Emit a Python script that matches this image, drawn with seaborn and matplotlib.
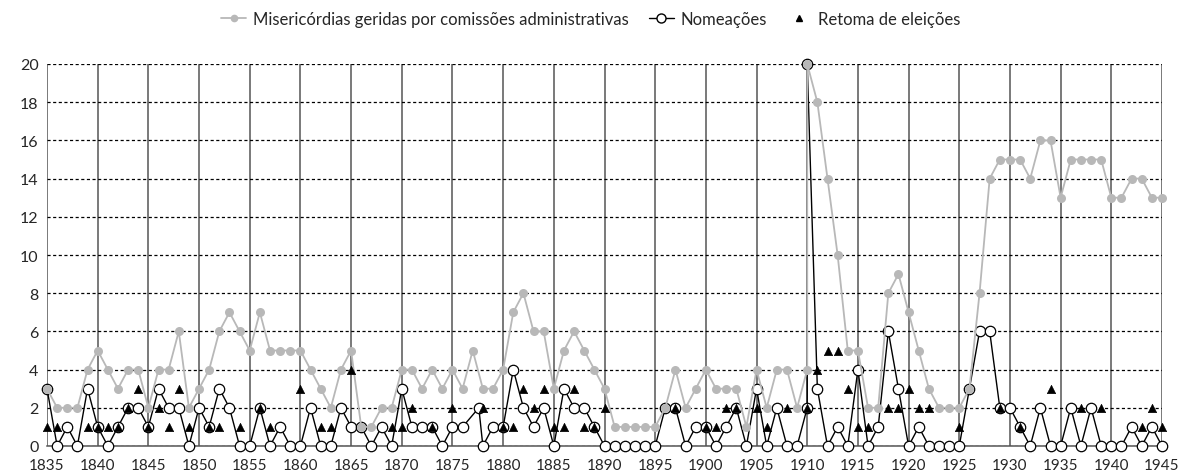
import numpy as np
import pandas as pd
import seaborn as sns
import matplotlib.pyplot as plt
from matplotlib.lines import Line2D

# anos (1910 aparece duas vezes: antes e depois da República)
anos = list(range(1835, 1911)) + list(range(1910, 1946))

misericordias = [3, 2, 2, 2, 4, 5, 4, 3, 4, 4,
                 2, 4, 4, 6, 2, 3, 4, 6, 7, 6,
                 5, 7, 5, 5, 5, 5, 4, 3, 2, 4,
                 5, 1, 1, 2, 2, 4, 4, 3, 4, 3,
                 4, 3, 5, 3, 3, 4, 7, 8, 6, 6,
                 3, 5, 6, 5, 4, 3, 1, 1, 1, 1,
                 1, 2, 4, 2, 3, 4, 3, 3, 3, 1,
                 4, 2, 4, 4, 2,
                 4, 20,
                 18, 14, 10, 5, 5, 2, 2, 8, 9, 7,
                 5, 3, 2, 2, 2, 3, 8, 14, 15, 15,
                 15, 14, 16, 16, 13, 15, 15, 15, 15, 13,
                 13, 14, 14, 13, 13]

anos_nomeacoes = [a if a != 1877 else 1877.6 for a in anos]
nomeacoes = [3, 0, 1, 0, 3, 1, 0, 1, 2, 2,
             1, 3, 2, 2, 0, 2, 1, 3, 2, 0,
             0, 2, 0, 1, 0, 0, 2, 0, 0, 2,
             1, 1, 0, 1, 0, 3, 1, 1, 1, 0,
             1, 1, 2, 0, 1, 1, 4, 2, 1, 2,
             0, 3, 2, 2, 1, 0, 0, 0, 0, 0,
             0, 2, 2, 0, 1, 1, 0, 1, 2, 0,
             3, 0, 2, 0, 0,
             2, 20,
             3, 0, 1, 0, 4, 0, 1, 6, 3, 0,
             1, 0, 0, 0, 0, 3, 6, 6, 2, 2,
             1, 0, 2, 0, 0, 2, 0, 2, 0, 0,
             0, 1, 0, 1, 0]

anos_eleicoes = [1835, 1836, 1839, 1840, 1841, 1842, 1843, 1844, 1845, 1846,
                 1847, 1848, 1849, 1851, 1852, 1854, 1856, 1857, 1860, 1862,
                 1863, 1865, 1869, 1870, 1871, 1873, 1875, 1878, 1880, 1881,
                 1882, 1883, 1884, 1885, 1886, 1887, 1888, 1889, 1890, 1897,
                 1900, 1901, 1902, 1903, 1905, 1906, 1908, 1910, 1911, 1912,
                 1913, 1914, 1915, 1916, 1918, 1919, 1920, 1921, 1922, 1925,
                 1929, 1931, 1934, 1937, 1939, 1943, 1944, 1945]
eleicoes = [1, 1, 1, 1, 1, 1, 2, 3, 1, 2,
            1, 3, 1, 1, 1, 1, 2, 1, 3, 1,
            1, 4, 1, 1, 2, 1, 2, 2, 1, 1,
            3, 2, 3, 1, 1, 3, 1, 1, 2, 2,
            1, 1, 2, 2, 2, 1, 2, 2, 4, 5,
            5, 3, 1, 1, 2, 2, 3, 2, 2, 1,
            2, 1, 3, 2, 2, 1, 2, 1]

rotulos = ["Misericórdias geridas por comissões administrativas", "Nomeações", "Retoma de eleições"]
cinza = "#b8b8b8"

sns.set_style("white")
plt.rcParams["font.family"] = ["Lato", "DejaVu Sans"]

fig, ax = plt.subplots(figsize=(11.81, 4.77), dpi=100)
fig.subplots_adjust(left=47/1181, right=1162/1181, top=1-65/477, bottom=1-447/477)

sns.lineplot(x=anos_nomeacoes, y=nomeacoes, estimator=None, sort=False, ax=ax,
             color="black", lw=1, marker="o", markersize=7.5, markerfacecolor="white",
             markeredgecolor="black", markeredgewidth=0.9, zorder=3, clip_on=False, legend=False)
sns.lineplot(x=anos, y=misericordias, estimator=None, sort=False, ax=ax,
             color=cinza, lw=1.3, marker="o", markersize=6.5, markerfacecolor=cinza,
             markeredgecolor=cinza, markeredgewidth=0, zorder=4, clip_on=False, legend=False)
sns.scatterplot(x=anos_eleicoes, y=eleicoes, ax=ax, marker="^", color="black",
                edgecolor="black", s=36, zorder=5, clip_on=False, legend=False)

ax.set_xlim(1835, 1945)
ax.set_ylim(0, 20)
ax.set_xticks(range(1835, 1946, 5))
ax.set_yticks(range(0, 21, 2))
ax.set_xlabel("")
ax.set_ylabel("")
ax.tick_params(axis="x", length=8, width=1, color="#555555", labelsize=11, pad=1)
ax.tick_params(axis="y", length=3, width=1, color="#555555", labelsize=11.5, pad=3)
ax.yaxis.grid(True, linestyle=(0, (2.5, 2)), color="black", lw=0.9)
ax.xaxis.grid(True, linestyle="-", color="#555555", lw=1.1)
ax.set_axisbelow(True)
for s in ["top", "right", "left"]:
    ax.spines[s].set_visible(False)
ax.spines["bottom"].set_color("#555555")
ax.spines["bottom"].set_linewidth(1.1)

handles = [
    Line2D([], [], color=cinza, lw=1.3, marker="o", markersize=5.5, markerfacecolor=cinza, markeredgewidth=0),
    Line2D([], [], color="black", lw=1, marker="o", markersize=6.5, markerfacecolor="white", markeredgecolor="black"),
    Line2D([], [], color="black", lw=0, marker="^", markersize=5),
]
ax.legend(handles, rotulos, loc="center", bbox_to_anchor=(0.488, 1.118), ncol=3, frameon=False,
          fontsize=12, handlelength=1.5, handletextpad=0.4, columnspacing=1.2)

plt.savefig("out.png", dpi=100)
